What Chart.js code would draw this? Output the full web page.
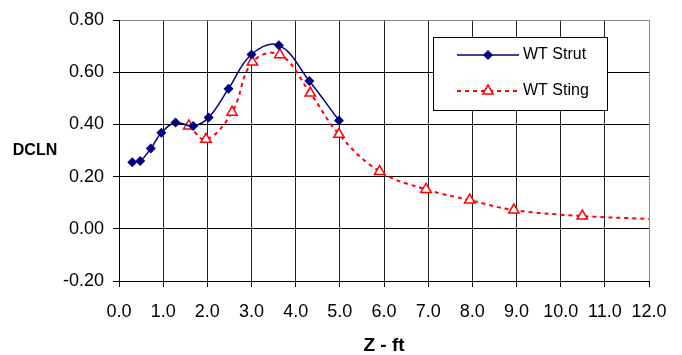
<!DOCTYPE html>
<html>
<head>
<meta charset="utf-8">
<script src="https://cdn.jsdelivr.net/npm/chart.js@4"></script>
<style>
  html, body { margin: 0; padding: 0; background: #fff; }
  canvas { display: block; }
</style>
</head>
<body>
<canvas id="chart" width="682" height="355"></canvas>
<script>
// values
const strutZ    = [0.30, 0.48, 0.72, 0.96, 1.28, 1.68, 2.03, 2.48, 3.00, 3.62, 4.31, 4.98];
const strutDcln = [0.255, 0.260, 0.308, 0.368, 0.407, 0.394, 0.426, 0.537, 0.668, 0.703, 0.566, 0.415];
const stingZ    = [1.58, 1.97, 2.56, 3.02, 3.64, 4.33, 4.98, 5.90, 6.95, 7.94, 8.94, 10.49, 12.0];
const stingDcln = [0.394, 0.343, 0.447, 0.639, 0.667, 0.520, 0.362, 0.220, 0.151, 0.110, 0.072, 0.049, 0.038];
const xTicks = [0, 1, 2, 3, 4, 5, 6, 7, 8, 9, 10, 11, 12];
const yTicks = [-0.2, 0, 0.2, 0.4, 0.6, 0.8];
const seriesNames = ['WT Strut', 'WT Sting'];

const FONT = "'Liberation Sans', Arial, sans-serif";

function toPoints(xs, ys) {
    return xs.map(function(x, i) { return { x: x, y: ys[i] }; });
}

// the last Sting value has no marker in the original
const stingRadius = stingZ.map(function(z, i) { return i === stingZ.length - 1 ? 0 : 6; });

const titlesAndLegend = {
    id: 'titlesAndLegend',
    afterDraw: function(chart) {
        const ctx = chart.ctx;
        const area = chart.chartArea;
        ctx.save();
        ctx.fillStyle = '#000';
        ctx.textBaseline = 'middle';
        ctx.textAlign = 'center';
        ctx.font = 'bold 16px ' + FONT;
        ctx.fillText('DCLN', 35, 151);
        ctx.font = 'bold 19px ' + FONT;
        ctx.fillText('Z - ft', (area.left + area.right) / 2, 346);

        // legend box
        const bx = 433, by = 37, bw = 174, bh = 73;
        ctx.fillStyle = '#fff';
        ctx.fillRect(bx, by, bw, bh);
        ctx.strokeStyle = '#000';
        ctx.lineWidth = 1;
        ctx.strokeRect(bx + 0.5, by + 0.5, bw, bh);

        // WT Strut
        ctx.strokeStyle = '#000080';
        ctx.lineWidth = 1.5;
        ctx.beginPath();
        ctx.moveTo(457, 55);
        ctx.lineTo(519, 55);
        ctx.stroke();
        ctx.fillStyle = '#000080';
        ctx.beginPath();
        ctx.moveTo(488, 50);
        ctx.lineTo(493, 55);
        ctx.lineTo(488, 60);
        ctx.lineTo(483, 55);
        ctx.closePath();
        ctx.fill();

        // WT Sting
        ctx.strokeStyle = '#ff0000';
        ctx.lineWidth = 2;
        ctx.setLineDash([4, 4]);
        ctx.beginPath();
        ctx.moveTo(457, 91);
        ctx.lineTo(519, 91);
        ctx.stroke();
        ctx.setLineDash([]);
        ctx.fillStyle = '#fff';
        ctx.lineWidth = 1.5;
        ctx.beginPath();
        ctx.moveTo(488, 85);
        ctx.lineTo(493.2, 94);
        ctx.lineTo(482.8, 94);
        ctx.closePath();
        ctx.fill();
        ctx.stroke();

        ctx.fillStyle = '#000';
        ctx.textAlign = 'left';
        ctx.font = '16px ' + FONT;
        ctx.fillText(seriesNames[0], 523, 55);
        ctx.fillText(seriesNames[1], 523, 91);
        ctx.restore();
    }
};

new Chart(document.getElementById('chart'), {
    type: 'line',
    data: {
        datasets: [{
            label: seriesNames[0],
            data: toPoints(strutZ, strutDcln),
            borderColor: '#000080',
            backgroundColor: '#000080',
            borderWidth: 1.5,
            pointStyle: 'rectRot',
            pointRadius: 5,
            pointBorderWidth: 0,
            tension: 0.4,
            fill: false
        }, {
            label: seriesNames[1],
            data: toPoints(stingZ, stingDcln),
            borderColor: '#ff0000',
            backgroundColor: '#ffffff',
            pointBorderColor: '#ff0000',
            borderWidth: 2,
            borderDash: [4, 4],
            pointStyle: 'triangle',
            pointRadius: stingRadius,
            pointBorderWidth: 1.5,
            tension: 0.4,
            fill: false
        }]
    },
    options: {
        responsive: false,
        animation: false,
        devicePixelRatio: 1,
        layout: { padding: { left: 0, right: 33, top: 20, bottom: 0 } },
        plugins: {
            legend: { display: false },
            tooltip: { enabled: false }
        },
        scales: {
            x: {
                type: 'linear',
                min: 0,
                max: 12,
                afterBuildTicks: function(scale) {
                    scale.ticks = xTicks.map(function(v) { return { value: v }; });
                },
                afterFit: function(scale) { scale.height = 74; },
                grid: {
                    color: function(c) { return c.tick && c.tick.value === 12 ? '#888' : '#222'; },
                    tickColor: '#000',
                    tickLength: 6,
                    lineWidth: 1
                },
                border: { color: '#000', width: 1 },
                ticks: {
                    autoSkip: false,
                    maxRotation: 0,
                    padding: 14,
                    color: '#000',
                    font: { family: FONT, size: 18 },
                    callback: function(v) { return Number(v).toFixed(1); }
                }
            },
            y: {
                type: 'linear',
                min: -0.2,
                max: 0.8,
                afterBuildTicks: function(scale) {
                    scale.ticks = yTicks.map(function(v) { return { value: v }; });
                },
                afterFit: function(scale) { scale.width = 119; },
                grid: {
                    color: function(c) { return c.tick && Math.abs(c.tick.value - 0.8) < 1e-6 ? '#888' : '#000'; },
                    tickColor: '#000',
                    tickLength: 6,
                    lineWidth: 1
                },
                border: { color: '#000', width: 1 },
                ticks: {
                    padding: 9,
                    color: '#000',
                    font: { family: FONT, size: 18 },
                    callback: function(v) { return Number(v).toFixed(2); }
                }
            }
        }
    },
    plugins: [titlesAndLegend]
});
</script>
</body>
</html>
